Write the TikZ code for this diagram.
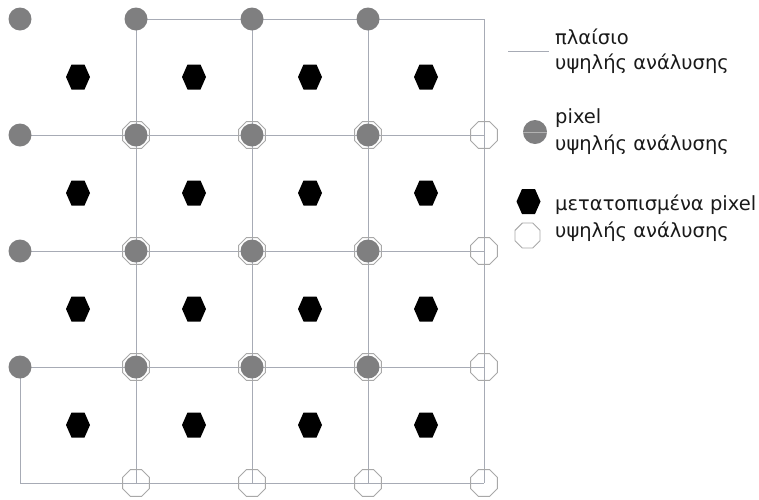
\documentclass[tikz,border=0pt]{standalone}
\usepackage{fontspec}
\setmainfont{DejaVu Sans}
\usetikzlibrary{shapes.geometric}
\definecolor{gridc}{HTML}{A7ABB5}
\definecolor{pixc}{HTML}{7F7F80}
\definecolor{octc}{HTML}{A8A8A8}
\tikzset{
  gline/.style={draw=gridc, line width=0.9pt},
  pix/.style={circle, fill=pixc, draw=none, minimum size=23pt, inner sep=0pt},
  oct/.style={regular polygon, regular polygon sides=8, draw=octc, line width=0.9pt, minimum size=29pt, inner sep=0pt},
  hexa/.style={fill=black},
  lbl/.style={anchor=west, inner sep=0pt, font=\fontsize{19.5}{22}\selectfont, text=black!90},
}
\newcommand{\hexat}[2]{\fill[hexa] (#1-12,#2) -- (#1-6.5,#2-12.5) -- (#1+6.5,#2-12.5) -- (#1+12,#2) -- (#1+6.5,#2+12.5) -- (#1-6.5,#2+12.5) -- cycle;}
\begin{document}
\begin{tikzpicture}[x=1pt,y=-1pt]
\useasboundingbox (0,0) rectangle (759,499);
% grid coordinates
\foreach \i/\x in {0/20,1/136,2/252,3/368,4/484}{
  \foreach \j/\y in {0/19,1/135,2/251,3/367,4/483}{
    \coordinate (g\i\j) at (\x,\y);
  }
}
% frame lines
\draw[gline] (g10) -- (g40);
\foreach \j in {1,2,3,4}{ \draw[gline] (g0\j) -- (g4\j); }
\foreach \i in {1,2,3,4}{ \draw[gline] (g\i0) -- (g\i4); }
\draw[gline] (g03) -- (g04);
% shifted pixels (octagons)
\foreach \i in {1,2,3,4}{
  \foreach \j in {1,2,3,4}{
    \node[oct] (o\i\j) at (g\i\j) {};
  }
}
% high-res pixels
\foreach \i in {0,1,2,3}{
  \foreach \j in {0,1,2,3}{
    \node[pix] (p\i\j) at (g\i\j) {};
  }
}
% shifted pixels (hexagons)
\foreach \x in {78,194,310,426}{
  \foreach \y in {77,193,309,425}{
    \hexat{\x}{\y}
  }
}
% legend
\coordinate (la) at (508,51);
\coordinate (lb) at (549,51);
\draw[gline] (la) -- (lb);
\node[lbl] (t1) at (555,37) {πλαίσιο};
\node[lbl] (t2) at (555,64) {υψηλής ανάλυσης};
\node[pix, minimum size=24pt] (lp) at (535,132) {};
\draw[draw=gray!60, line width=0.6pt] (lp.west) -- (lp.east);
\node[lbl] (t3) at (555,118) {pixel};
\node[lbl] (t4) at (555,145) {υψηλής ανάλυσης};
\hexat{528.5}{201.5}
\node[oct, minimum size=27pt] (lo) at (527.5,235.5) {};
\node[lbl] (t5) at (555,205) {μετατοπισμένα pixel};
\node[lbl] (t6) at (555,232) {υψηλής ανάλυσης};
\end{tikzpicture}
\end{document}
